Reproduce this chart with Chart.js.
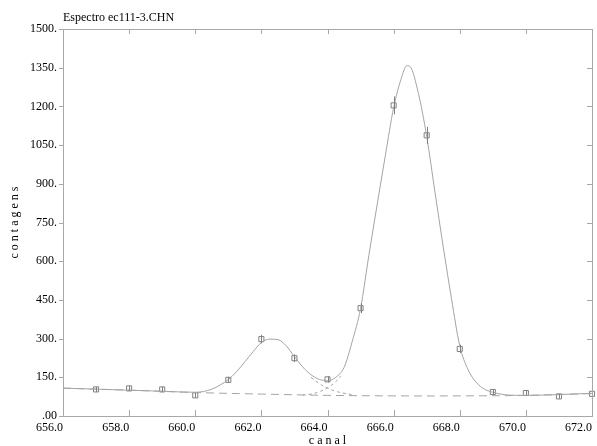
<!DOCTYPE html>
<html>
<head>
<meta charset="utf-8">
<script src="https://cdn.jsdelivr.net/npm/chart.js@4"></script>
<style>
  html, body { margin: 0; padding: 0; background: #fff; overflow: hidden; }
  #wrap { width: 597px; height: 446px; }
</style>
</head>
<body>
<div id="wrap"><canvas id="chart" width="597" height="446"></canvas></div>
<script>
// data
const titleText = 'Espectro ec111-3.CHN';
const xTitle = 'c a n a l';
const yTitle = 'c o n t a g e n s';

// measured counts per channel (squares + error bars)
const channels = [657, 658, 659, 660, 661, 662, 663, 664, 665, 666, 667, 668, 669, 670, 671, 672];
const counts   = [103, 107, 103, 80, 140, 298, 224, 142, 418, 1204, 1088, 260, 93, 89, 76, 86];
const errors   = [10, 10, 10, 9, 12, 17, 15, 12, 20, 35, 33, 16, 10, 9, 9, 9];

// fitted curve (solid)
const fitX = [656, 657, 658, 659, 660, 660.25, 660.5, 660.75, 661, 661.25, 661.5, 661.75, 662, 662.25, 662.5, 662.75,
  663, 663.25, 663.5, 663.75, 664, 664.25, 664.5, 664.75, 665, 665.25, 665.5, 665.75, 666, 666.25, 666.4, 666.5,
  666.75, 667, 667.25, 667.5, 667.75, 668, 668.25, 668.5, 668.75, 669, 669.5, 670, 671, 672];
const fitY = [108, 104, 100, 96, 92, 95, 104, 120, 141, 172, 210, 249, 285, 298, 296, 272,
  230, 190, 160, 142, 137, 150, 188, 290, 417, 622, 818, 1010, 1195, 1316, 1358, 1354,
  1250, 1084, 868, 656, 455, 272, 180, 130, 104, 92, 81, 80, 83, 88];

// background (dashed)
const bgX = [656, 658, 660, 662, 664, 666, 668, 670, 672];
const bgY = [108, 100, 91, 85, 80, 78, 78, 80, 87];

// single peak components near the valley (dashed)
const comp1X = [663.5, 663.75, 664, 664.25, 664.5, 664.75];
const comp1Y = [150, 126, 108, 96, 88, 83];
const comp2X = [663.25, 663.5, 663.75, 664, 664.25, 664.4];
const comp2Y = [81, 85, 94, 110, 133, 155];

const xMin = 656, xMax = 672, xStep = 2;
const yMin = 0, yMax = 1500, yStep = 150;

const FONT = 'Liberation Serif';
const LINE = '#a4a4a4';
const MARK = '#808080';
const AXIS = '#a8a8a8';

const pts = (xs, ys) => xs.map((x, i) => ({ x, y: ys[i] }));

// frame, ticks, title
const framePlugin = {
  id: 'frame',
  afterDraw(chart) {
    const { ctx, chartArea: a, scales: { x, y } } = chart;
    ctx.save();
    ctx.strokeStyle = AXIS;
    ctx.lineWidth = 1;
    ctx.strokeRect(Math.round(a.left) + 0.5, Math.round(a.top) + 0.5,
      Math.round(a.right - a.left), Math.round(a.bottom - a.top));
    ctx.beginPath();
    for (let v = xMin; v <= xMax; v += xStep) {
      const px = Math.round(x.getPixelForValue(v)) + 0.5;
      ctx.moveTo(px, a.bottom); ctx.lineTo(px, a.bottom - 6);
      ctx.moveTo(px, a.top); ctx.lineTo(px, a.top + 5);
    }
    for (let v = yMin; v <= yMax; v += yStep) {
      const py = Math.round(y.getPixelForValue(v)) + 0.5;
      ctx.moveTo(a.left - 4, py); ctx.lineTo(a.left, py);
      ctx.moveTo(a.right, py); ctx.lineTo(a.right - 5, py);
    }
    ctx.stroke();
    ctx.fillStyle = '#000';
    ctx.font = `12px "${FONT}"`;
    ctx.textAlign = 'left';
    ctx.textBaseline = 'alphabetic';
    ctx.fillText(titleText, a.left, 21);
    ctx.restore();
  }
};

// vertical error bars
const errPlugin = {
  id: 'errbars',
  afterDatasetsDraw(chart) {
    const { ctx, scales: { x, y } } = chart;
    ctx.save();
    ctx.strokeStyle = MARK;
    ctx.lineWidth = 1;
    ctx.beginPath();
    channels.forEach((c, i) => {
      const px = Math.round(x.getPixelForValue(c)) + 0.5;
      ctx.moveTo(px, y.getPixelForValue(counts[i] - errors[i]));
      ctx.lineTo(px, y.getPixelForValue(counts[i] + errors[i]));
    });
    ctx.stroke();
    ctx.restore();
  }
};

new Chart(document.getElementById('chart'), {
  type: 'line',
  plugins: [framePlugin, errPlugin],
  data: {
    datasets: [
      { data: pts(fitX, fitY), borderColor: LINE, borderWidth: 1, pointRadius: 0, cubicInterpolationMode: 'monotone' },
      { data: pts(bgX, bgY), borderColor: LINE, borderWidth: 1, pointRadius: 0, borderDash: [8, 5], tension: 0.4 },
      { data: pts(comp1X, comp1Y), borderColor: LINE, borderWidth: 1, pointRadius: 0, borderDash: [3, 3], tension: 0.4 },
      { data: pts(comp2X, comp2Y), borderColor: LINE, borderWidth: 1, pointRadius: 0, borderDash: [3, 3], tension: 0.4 },
      { data: pts(channels, counts), showLine: false, pointStyle: 'rect', pointRadius: 3.6,
        borderColor: MARK, borderWidth: 1, backgroundColor: 'rgba(0,0,0,0)' },
    ],
  },
  options: {
    responsive: false,
    animation: false,
    devicePixelRatio: 1,
    clip: false,
    layout: { padding: { top: 29, right: 0, bottom: 0, left: 0 } },
    plugins: { legend: { display: false }, title: { display: false }, tooltip: { enabled: false } },
    scales: {
      x: {
        type: 'linear', min: xMin, max: xMax,
        grid: { display: false, drawTicks: false }, border: { display: false },
        ticks: { stepSize: xStep, align: 'end', padding: 5, color: '#000', maxRotation: 0, autoSkip: false,
          font: { family: FONT, size: 12 }, callback: v => v.toFixed(1) },
        title: { display: true, text: xTitle, color: '#000', font: { family: FONT, size: 12 }, padding: { top: 0, bottom: -2 } },
        afterFit: s => { s.height = 30; s.paddingLeft = 0; s.paddingRight = 0; },
      },
      y: {
        min: yMin, max: yMax,
        grid: { display: false, drawTicks: false }, border: { display: false },
        ticks: { stepSize: yStep, padding: 6, color: '#000', autoSkip: false,
          font: { family: FONT, size: 12 }, callback: v => v === 0 ? '.00' : v + '.' },
        title: { display: true, text: yTitle, color: '#000', font: { family: FONT, size: 12 }, padding: { top: 8, bottom: 0 } },
        afterFit: s => { s.width = 63; s.paddingTop = 0; s.paddingBottom = 0; },
      },
    },
  },
});
</script>
</body>
</html>
